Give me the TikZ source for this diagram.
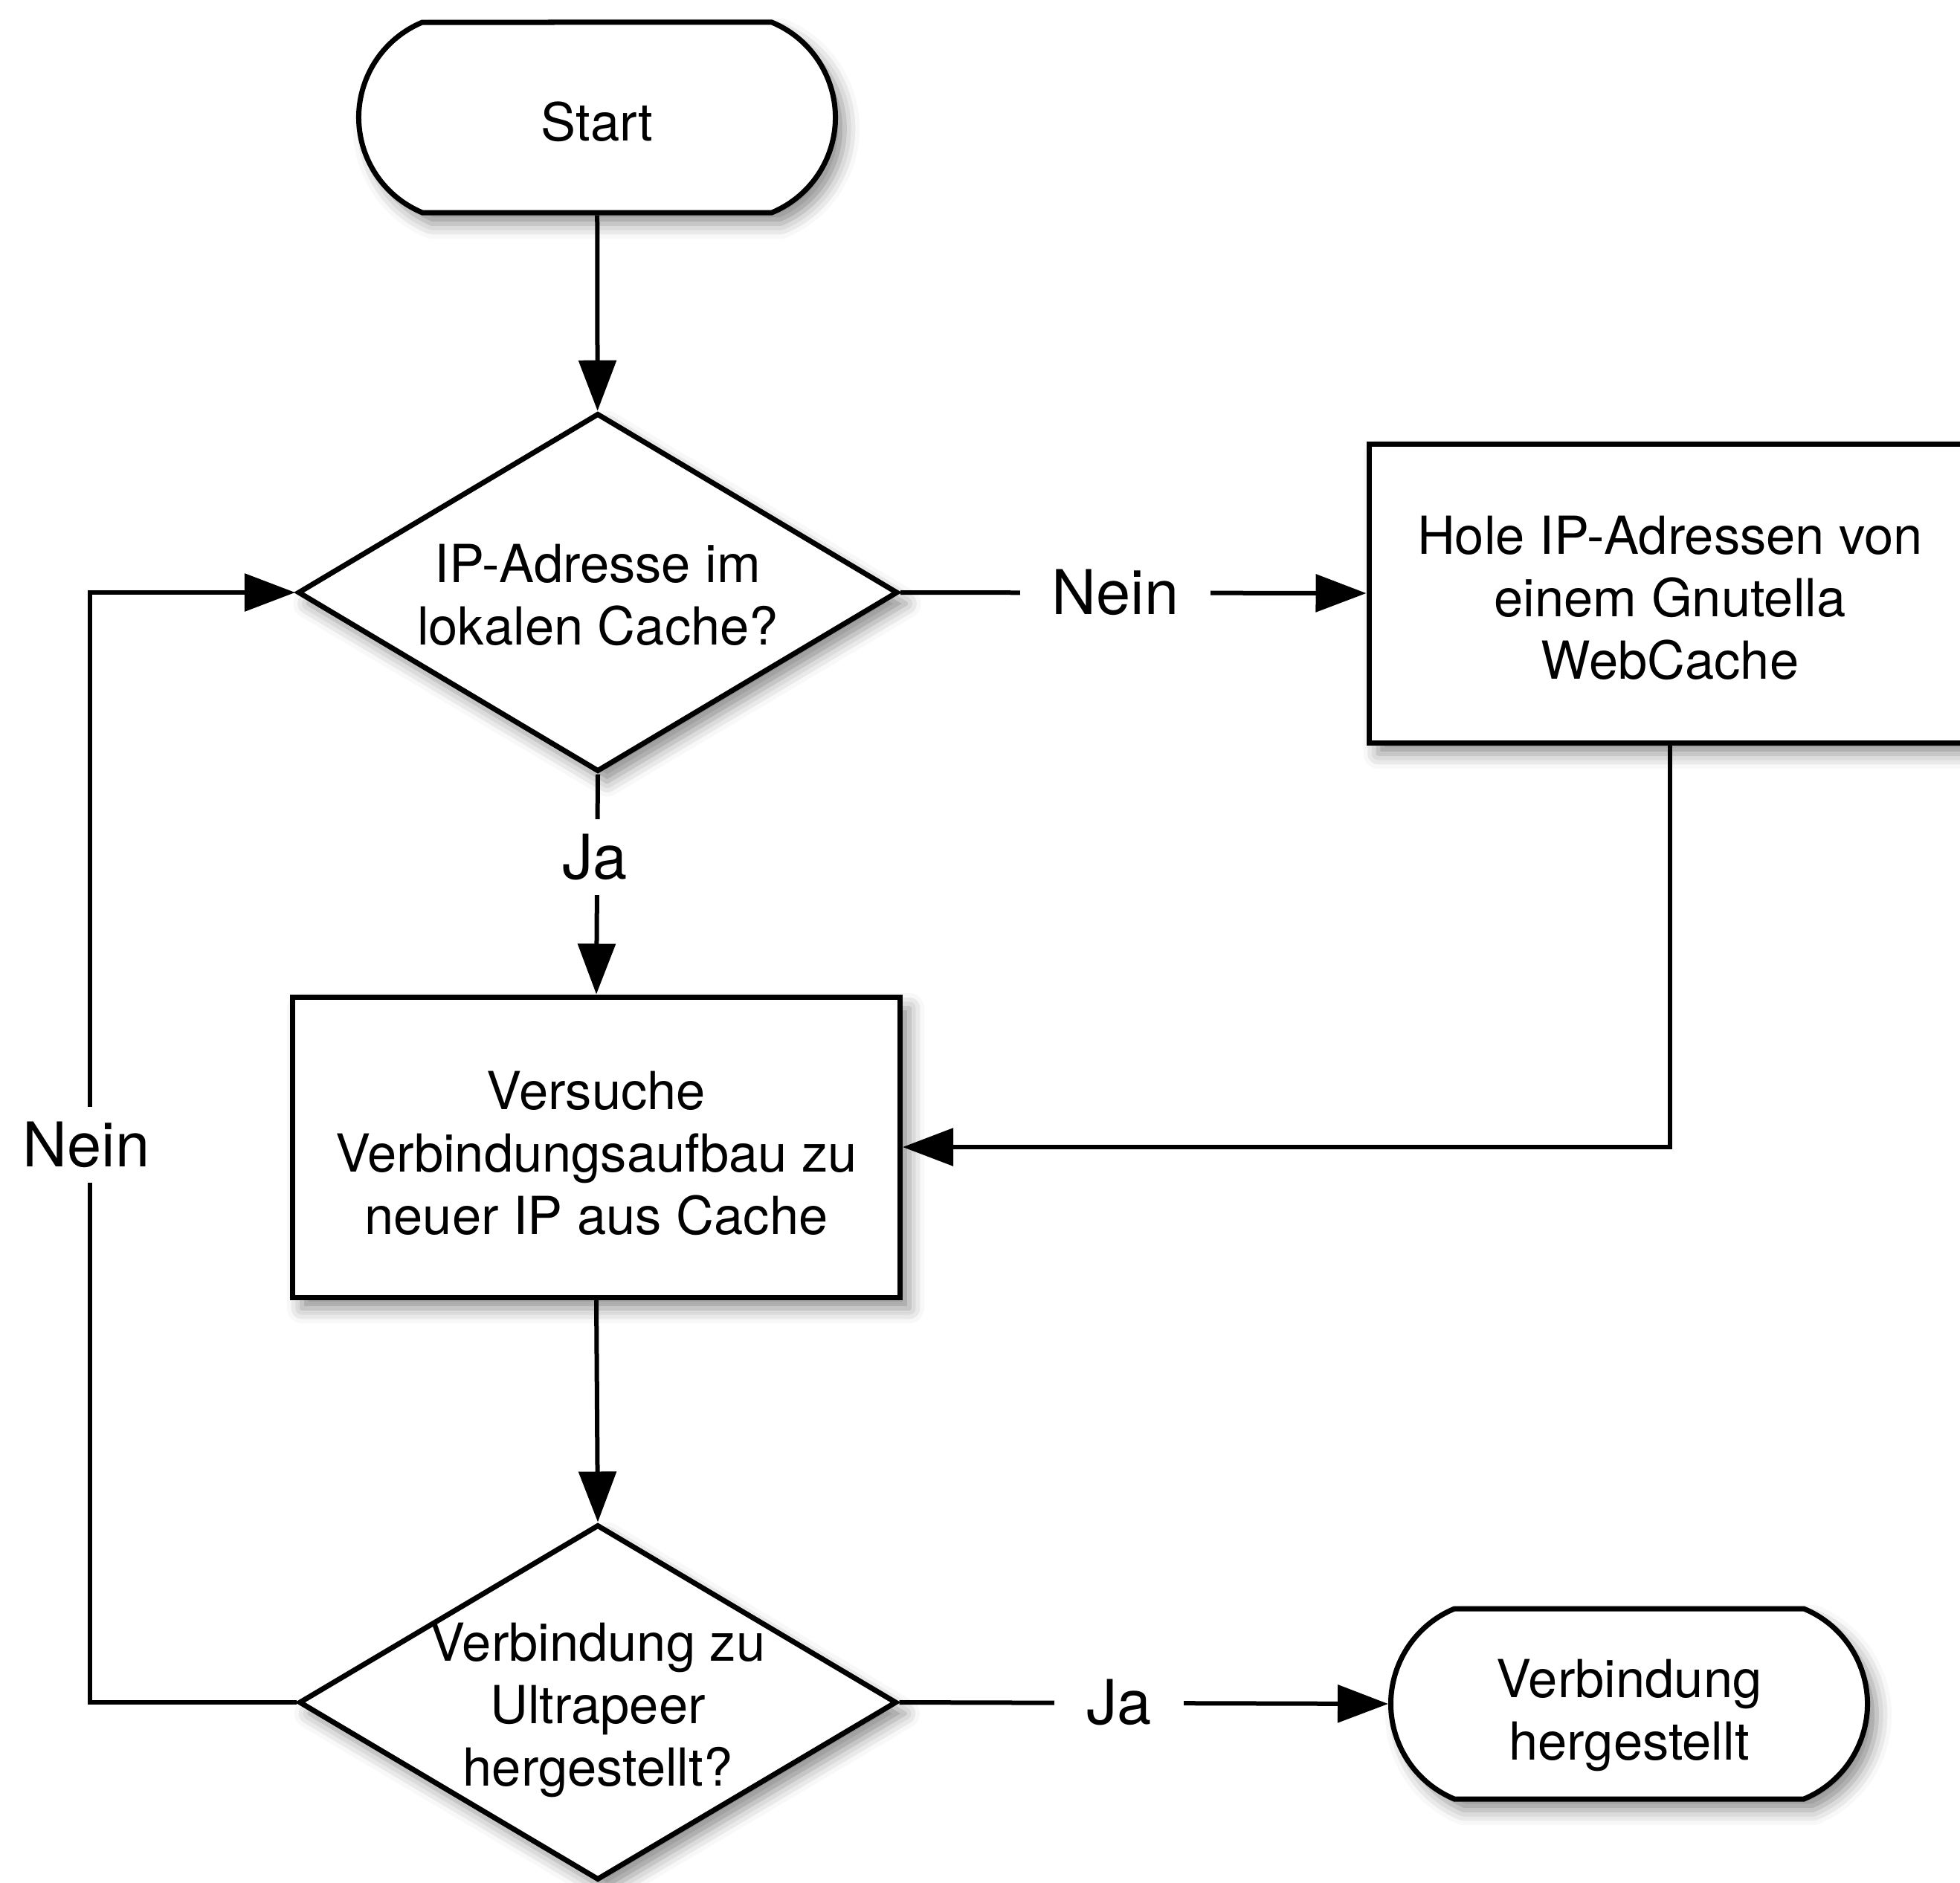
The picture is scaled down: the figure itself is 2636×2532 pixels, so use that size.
\documentclass[tikz,border=0pt]{standalone}
\usepackage{fontspec}
\setmainfont{TeX Gyre Heros}
\usetikzlibrary{shapes.geometric,shapes.misc,arrows.meta,shadows.blur}

% text of a decision diamond, taking no room so the diamond keeps its set size
\newcommand\diamondtext[1]{\smash{\raisebox{-6pt}{\makebox[0pt]{\begin{tabular}{@{}c@{}}#1\end{tabular}}}}}
% box text set a little lower than the centre, the box keeping its size
\newcommand\boxtext[2][-2pt]{\raisebox{#1}[\height][\depth]{\begin{tabular}{@{}c@{}}#2\end{tabular}}}

\begin{document}
\begin{tikzpicture}[x=0.2pt,y=-0.2pt,
  boxfont/.style={font=\fontsize{14.1}{16.8}\selectfont},
  softshadow/.style={blur shadow={shadow xshift=2.5pt,shadow yshift=-3pt,shadow blur radius=4pt,shadow opacity=45}},
  terminal/.style={rounded rectangle, rounded rectangle arc length=135, draw, line width=1.4pt,
    fill=white, softshadow, boxfont, minimum width=128.2pt, minimum height=51.2pt, inner sep=0pt},
  process/.style={rectangle, draw, line width=1.4pt, fill=white, softshadow, boxfont, inner sep=0pt},
  decision/.style={diamond, draw, line width=1.4pt, fill=white, softshadow, boxfont, inner sep=0pt, shape aspect=1.67},
  flow/.style={line width=1.2pt, -{Triangle[length=13.6pt,width=10pt]}},
  answer/.style={fill=white, inner xsep=8.6pt, inner ysep=4pt, font=\fontsize{16.6}{20}\selectfont}
]
\useasboundingbox (0,0) rectangle (2636,2532);

% nodes
\node[terminal] (start) at (803,158) {\boxtext[-3pt]{Start}};
\node[decision, minimum width=161.4pt, minimum height=96.4pt] (cache) at (804,797)
  {\diamondtext{IP-Adresse im\\lokalen Cache?}};
\node[process, minimum width=162pt, minimum height=80.4pt] (webcache) at (2246,798)
  {\boxtext[-3pt]{Hole IP-Adressen von\\einem Gnutella\\WebCache}};
\node[process, minimum width=163.4pt, minimum height=80.8pt] (connect) at (802,1543)
  {\boxtext[-3.4pt]{Versuche\\Verbindungsaufbau zu\\neuer IP aus Cache}};
\node[decision, minimum width=160.8pt, minimum height=95.6pt] (ultra) at (804,2290)
  {\diamondtext{Verbindung zu\\Ultrapeer\\hergestellt?}};
\node[terminal] (done) at (2191,2292) {\boxtext[-3.4pt]{Verbindung\\hergestellt}};

% connectors
\coordinate (loop) at (121,1540);
\draw[flow] (start) -- (cache);
\draw[flow] (cache.east) -- (webcache.west);
\draw[flow] (cache.south) -- (connect.north);
\draw[flow] (webcache.south) |- (connect.east);
\draw[flow] (connect.south) -- (ultra.north);
\draw[flow] (ultra.east) -- (done.west);
\draw[flow] (ultra.west) -| (loop) |- (cache.west);

% answer labels on the connectors
\node[answer] (nein1) at (1500,797) {Nein};
\node[answer] (ja1) at (800,1153) {Ja};
\node[answer] (nein2) at (116,1540) {Nein};
\node[answer] (ja2) at (1505,2290) {Ja};
\end{tikzpicture}
\end{document}
